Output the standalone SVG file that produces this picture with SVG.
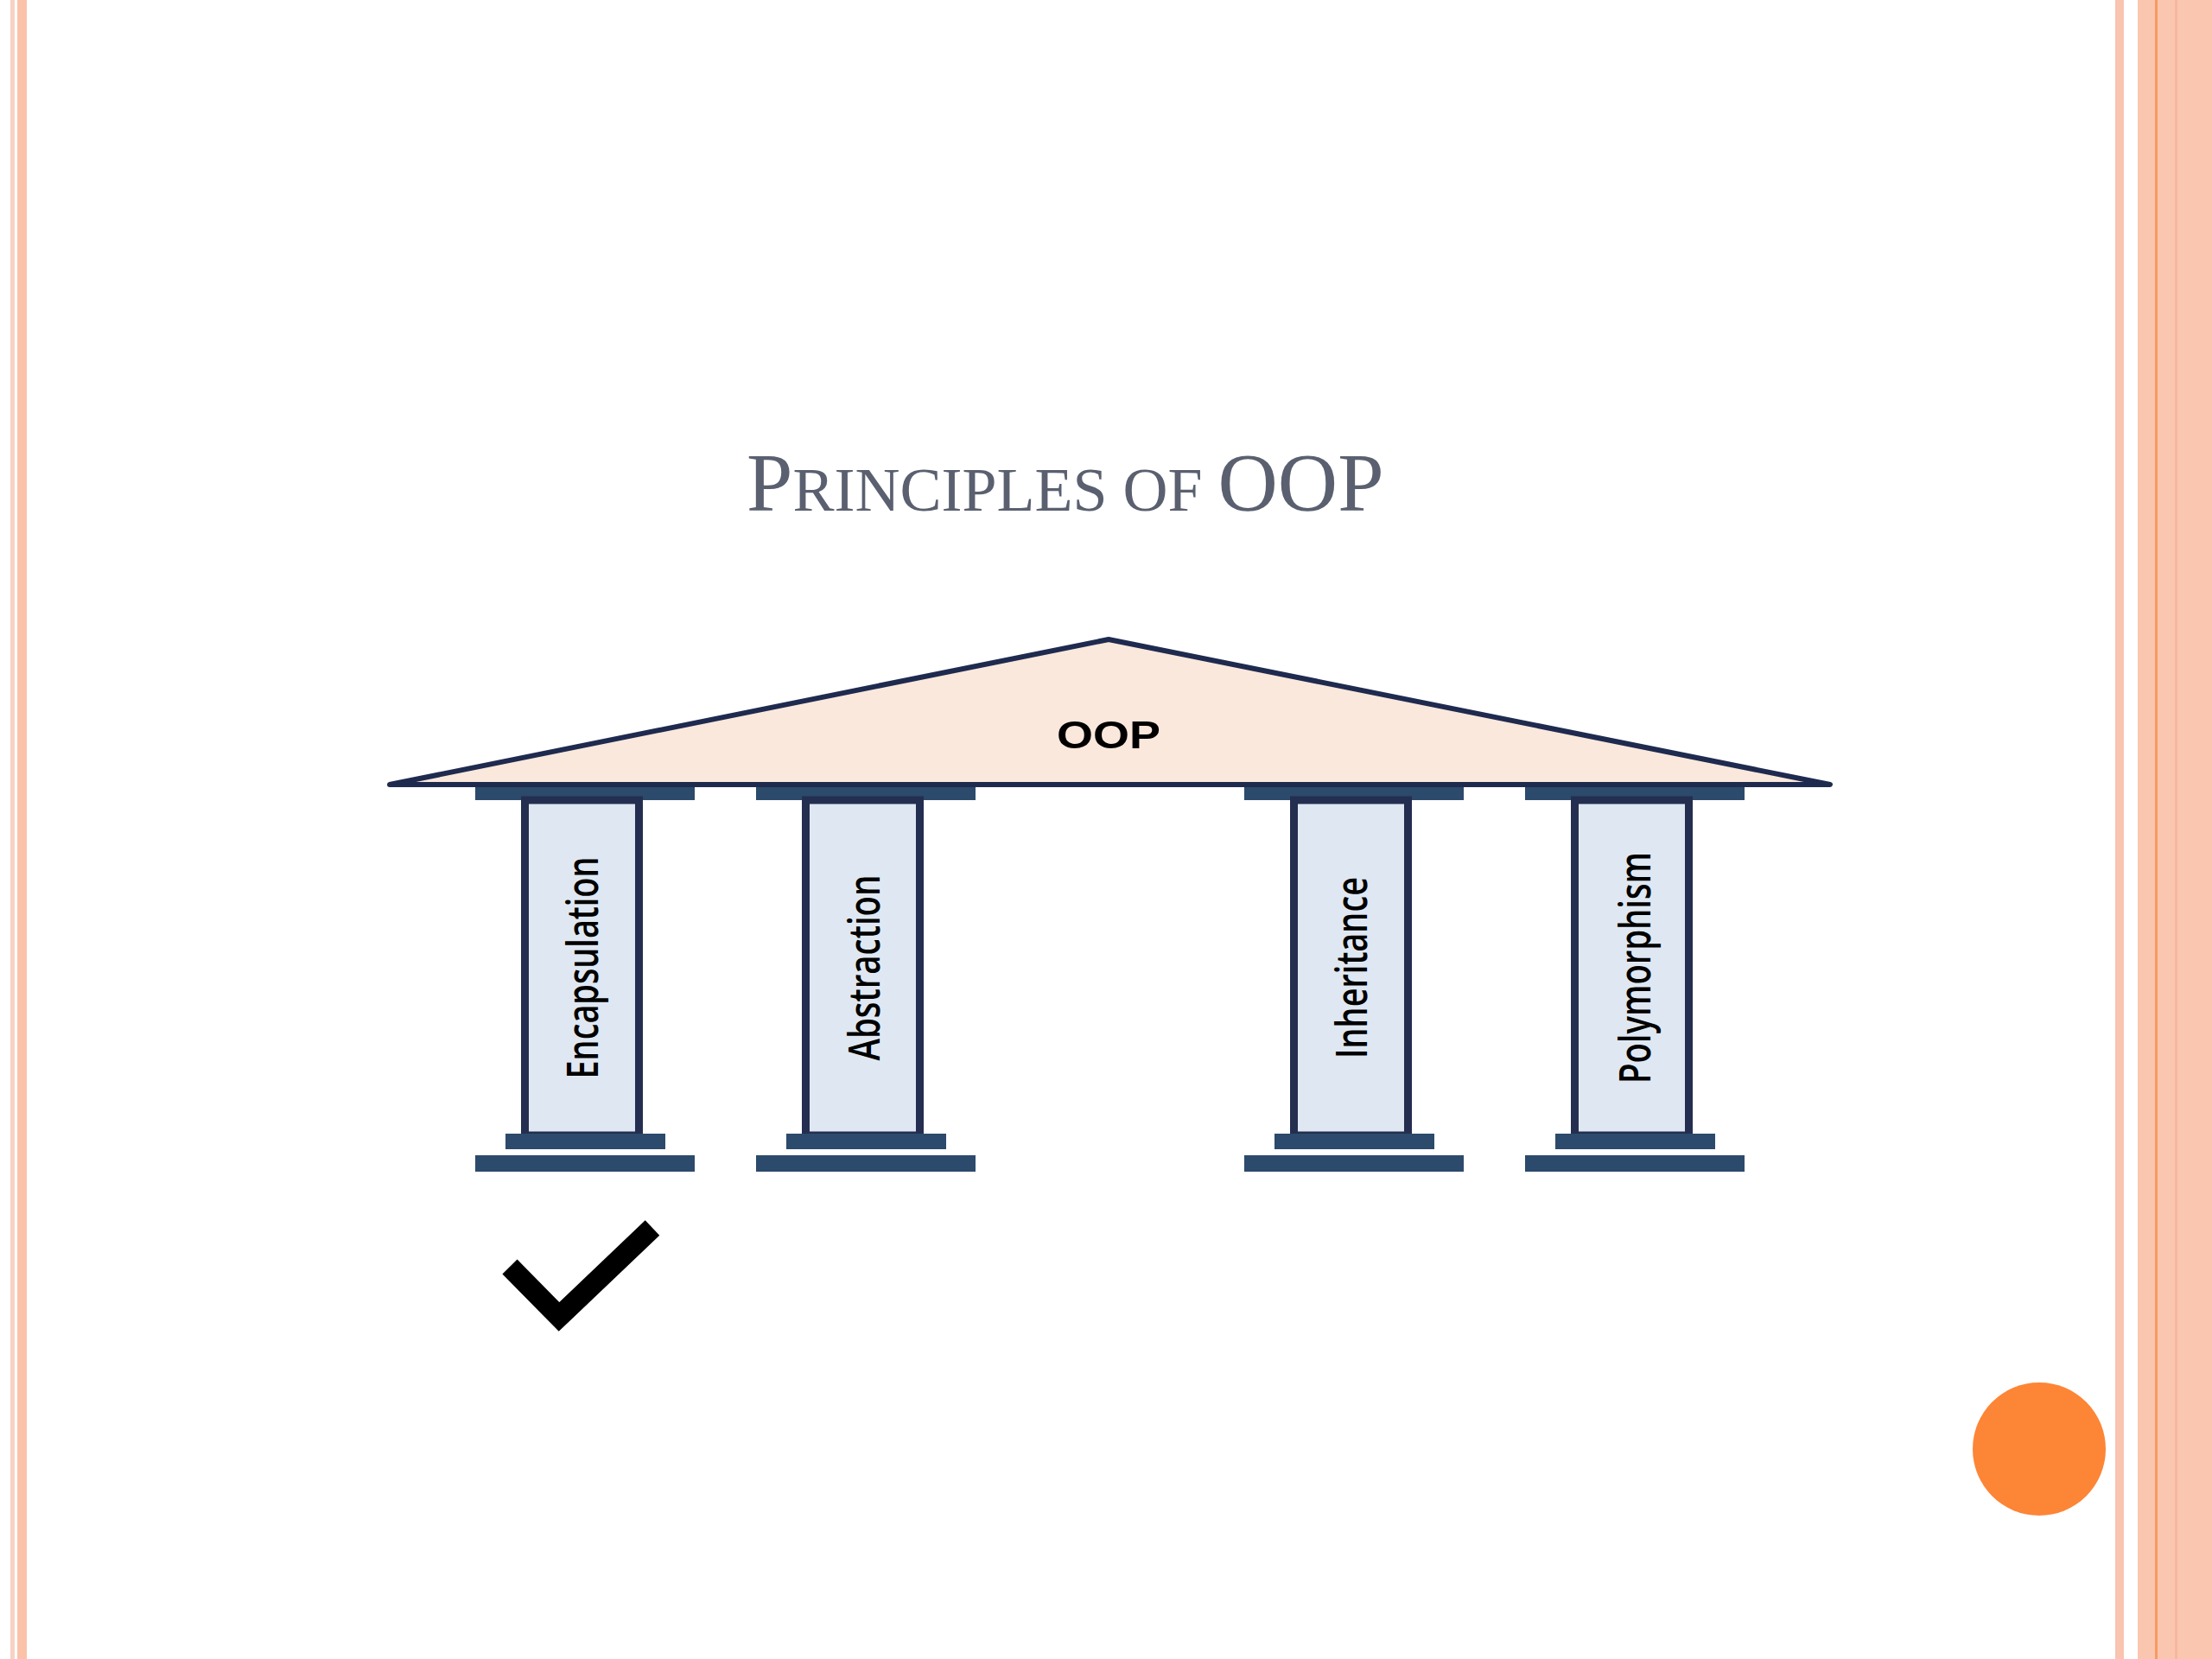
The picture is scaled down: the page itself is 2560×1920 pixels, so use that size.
<svg xmlns="http://www.w3.org/2000/svg" width="2560" height="1920" viewBox="0 0 2560 1920">
  <style>
    .bar { fill: #2c4a6b; }
    .col { fill: #dfe8f2; stroke: #232e50; stroke-width: 9; }
    .lbl { font-family: "Open Sans", "Liberation Sans", sans-serif; font-size: 50px; font-weight: 600; fill: #000; text-anchor: middle; }
    .title { font-family: "Liberation Serif", "Times New Roman", serif; fill: #5a6070; }
  </style>
  <defs>
    <g id="pillarShape">
      <rect class="bar" x="0" y="911" width="254" height="15"/>
      <rect class="col" x="57.5" y="926" width="132" height="388"/>
      <rect class="bar" x="35" y="1312" width="185" height="18"/>
      <rect class="bar" x="0" y="1337" width="254" height="19"/>
    </g>
  </defs>
  <rect x="0" y="0" width="2560" height="1920" fill="#ffffff"/>
  <g id="borders">
    <rect x="12" y="0" width="5" height="1920" fill="#f8d2c4"/>
    <rect x="20" y="0" width="11" height="1920" fill="#fbc2aa"/>
    <rect x="2448" y="0" width="10" height="1920" fill="#f9c4b0"/>
    <rect x="2474" y="0" width="86" height="1920" fill="#fbc6b0"/>
    <rect x="2494" y="0" width="3" height="1920" fill="#f99a62"/>
    <rect x="2517" y="0" width="3" height="1920" fill="#f7b79d"/>
  </g>
  <g id="title">
    <text class="title" x="864" y="591"><tspan font-size="96">P</tspan><tspan font-size="72">RINCIPLES OF </tspan><tspan font-size="96">OOP</tspan></text>
  </g>
  <g id="connectors"></g>
  <g id="pillar-encapsulation">
    <use href="#pillarShape" x="550" y="0"/>
    <text class="lbl" transform="translate(692,1120) rotate(-90)" x="0" y="0" textLength="257" lengthAdjust="spacingAndGlyphs">Encapsulation</text>
  </g>
  <g id="pillar-abstraction">
    <use href="#pillarShape" x="875" y="0"/>
    <text class="lbl" transform="translate(1018,1120) rotate(-90)" x="0" y="0" textLength="215" lengthAdjust="spacingAndGlyphs">Abstraction</text>
  </g>
  <g id="pillar-inheritance">
    <use href="#pillarShape" x="1440" y="0"/>
    <text class="lbl" transform="translate(1582,1120) rotate(-90)" x="0" y="0" textLength="210" lengthAdjust="spacingAndGlyphs">Inheritance</text>
  </g>
  <g id="pillar-polymorphism">
    <use href="#pillarShape" x="1765" y="0"/>
    <text class="lbl" transform="translate(1910,1120) rotate(-90)" x="0" y="0" textLength="268" lengthAdjust="spacingAndGlyphs">Polymorphism</text>
  </g>
  <g id="roof">
    <polygon points="451,908 1283,740 2118,908" fill="#fae8dc" stroke="#1f2a4f" stroke-width="6" stroke-linejoin="round"/>
    <text x="1283" y="866" font-family="Liberation Sans, Arial, sans-serif" font-weight="bold" font-size="44" fill="#000" text-anchor="middle" textLength="120" lengthAdjust="spacingAndGlyphs">OOP</text>
  </g>
  <g id="checkmark">
    <polyline points="590,1466 647,1524 755,1421" fill="none" stroke="#000" stroke-width="24" stroke-linejoin="miter" stroke-linecap="butt"/>
  </g>
  <g id="dot">
    <circle cx="2360" cy="1677" r="77" fill="#fd8536"/>
  </g>
</svg>
